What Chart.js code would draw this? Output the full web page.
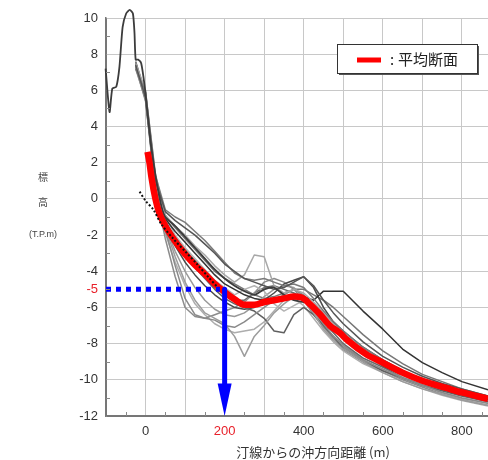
<!DOCTYPE html>
<html><head><meta charset="utf-8">
<script src="https://cdn.jsdelivr.net/npm/chart.js@4/dist/chart.umd.min.js"></script>
<style>html,body{margin:0;padding:0;background:#fff}#wrap{width:488px;height:460px}</style>
</head><body><div id="wrap"><canvas id="c" width="488" height="460"></canvas></div>
<script>
// ---- data ----
const xTickValues = [-100, 0, 100, 200, 300, 400, 500, 600, 700, 800];
const xTickLabels = ['', '0', '', '200', '', '400', '', '600', '', '800'];
const yTickValues = [10, 8, 6, 4, 2, 0, -2, -4, -5, -6, -8, -10, -12];
const yTickLabels = ['10', '8', '6', '4', '2', '0', '-2', '-4', '-5', '-6', '-8', '-10', '-12'];
const legendLabel = '平均断面';
const xTitle = '汀線からの沖方向距離 (m)';
const yTitleLines = ['標', '高', '(T.P.m)'];

// common distance grid (m) for surveyed profiles
const gridX = [-25, 0, 25, 50, 75, 100, 125, 150, 175, 200, 225, 250, 275, 300, 325, 350, 375, 400, 425, 450, 475, 500, 550, 600, 650, 700, 750, 800, 866];
const profA = [7.4, 5.6, 1.0, -0.7, -1.2, -1.6, -2.0, -2.5, -3.0, -3.6, -4.0, -4.4, -4.6, -4.8, -5.0, -4.9, -4.6, -4.3, -4.8, -5.6, -6.3, -6.9, -7.9, -8.7, -9.3, -9.8, -10.2, -10.5, -10.9];
const profB = [7.2, 5.9, 1.3, -0.6, -1.0, -1.3, -1.8, -2.3, -2.9, -3.5, -4.1, -4.4, -4.5, -4.4, -4.6, -4.8, -4.7, -4.9, -5.5, -6.2, -6.8, -7.3, -8.2, -8.9, -9.5, -10.0, -10.35, -10.65, -11.0];
const profC = [7.5, 6.0, 0.8, -0.9, -1.5, -2.0, -2.6, -3.1, -3.7, -4.2, -4.6, -4.2, -3.1, -3.2, -4.8, -5.2, -5.0, -5.2, -5.7, -6.3, -6.9, -7.4, -8.3, -9.0, -9.6, -10.1, -10.45, -10.75, -11.1];
const profD = [7.3, 5.4, 0.6, -1.7, -3.7, -5.5, -6.4, -6.6, -6.7, -7.0, -7.1, -6.8, -6.4, -6.0, -5.6, -5.3, -5.0, -5.3, -6.0, -6.9, -7.6, -8.1, -8.9, -9.4, -9.9, -10.3, -10.7, -11.0, -11.3];
const profE = [7.4, 5.7, 0.9, -1.6, -3.2, -4.6, -5.6, -6.3, -6.6, -6.9, -7.6, -8.7, -7.6, -7.0, -6.3, -5.8, -5.4, -5.6, -6.3, -7.2, -7.8, -8.3, -9.0, -9.6, -10.1, -10.5, -10.8, -11.1, -11.4];
const profF = [7.6, 5.8, 1.1, -1.2, -2.2, -3.0, -3.8, -4.4, -5.0, -5.5, -5.8, -6.0, -6.2, -6.6, -7.3, -7.4, -6.4, -6.0, -6.4, -7.0, -7.6, -8.3, -9.0, -9.5, -9.9, -10.3, -10.6, -10.9, -11.2];
const profG = [7.5, 5.6, 0.9, -1.1, -1.8, -2.4, -3.0, -3.6, -4.2, -4.7, -5.0, -5.3, -5.5, -5.6, -5.5, -5.4, -5.3, -5.4, -5.6, -5.1, -5.1, -5.1, -6.2, -7.2, -8.3, -9.05, -9.6, -10.1, -10.55];
const profH = [7.5, 5.5, 0.7, -1.4, -2.6, -3.5, -4.2, -4.8, -5.3, -5.7, -6.0, -6.1, -6.0, -5.6, -5.2, -4.7, -4.5, -4.3, -4.9, -6.0, -6.8, -7.3, -8.2, -8.9, -9.5, -10.0, -10.4, -10.7, -11.0];
const profI = [7.3, 5.9, 1.4, -1.0, -2.0, -2.7, -3.3, -3.9, -4.5, -4.9, -5.3, -5.0, -4.8, -5.1, -5.8, -6.2, -5.9, -5.6, -5.9, -6.5, -7.1, -7.7, -8.6, -9.2, -9.8, -10.2, -10.6, -10.9, -11.2];
const profJ = [7.2, 5.5, 0.4, -2.2, -4.3, -6.0, -6.5, -6.6, -6.4, -6.2, -6.0, -5.7, -5.2, -4.6, -4.4, -4.6, -5.0, -5.6, -6.4, -7.1, -7.7, -8.2, -8.9, -9.5, -10.0, -10.4, -10.8, -11.1, -11.4];
const profK = [7.4, 5.7, 1.0, -1.3, -2.1, -2.8, -3.4, -4.0, -4.6, -5.2, -5.6, -5.6, -5.2, -4.9, -4.8, -5.0, -5.2, -5.5, -6.1, -6.8, -7.4, -8.0, -8.8, -9.3, -9.8, -10.2, -10.55, -10.85, -11.2];
const profL = [7.3, 5.6, 0.9, -1.5, -2.9, -4.0, -4.9, -5.6, -6.1, -6.4, -6.5, -6.3, -5.9, -5.4, -5.0, -4.8, -4.9, -5.4, -6.2, -7.0, -7.6, -8.1, -8.8, -9.3, -9.9, -10.3, -10.7, -11.0, -11.3];
const profM = [7.5, 5.8, 1.2, -0.9, -1.6, -2.2, -2.8, -3.4, -4.0, -4.4, -4.7, -5.0, -5.3, -5.5, -5.4, -5.2, -5.0, -5.0, -5.3, -5.6, -6.0, -6.5, -7.5, -8.4, -9.1, -9.7, -10.1, -10.5, -10.9];
const profN = [7.3, 5.6, 0.8, -1.9, -3.5, -4.8, -5.8, -6.4, -6.9, -7.2, -7.4, -7.3, -7.2, -6.8, -6.2, -5.6, -5.5, -5.9, -6.6, -7.3, -7.9, -8.4, -9.1, -9.6, -10.1, -10.5, -10.85, -11.15, -11.45];
const greyProfiles = [profA, profB, profC, profD, profE, profF, profG, profH, profI, profJ, profK, profL, profM, profN];
const greyShades = ['#555555', '#7a7a7a', '#a8a8a8', '#8a8a8a', '#9c9c9c', '#606060', '#333333', '#4a4a4a', '#b4b4b4', '#8c8c8c', '#6a6a6a', '#999999', '#777777', '#adadad'];

// profile with the dune on the landward side
const duneX = [-101, -91, -84, -74, -66, -58, -49, -40, -32, -28, -25, -19, -11, -2, 6, 14, 27, 40, 50, 75, 100, 125, 150, 175, 200, 225, 250, 275, 300, 325, 350, 375, 400, 425, 450, 475, 500, 550, 600, 650, 700, 750, 800, 866];
const duneY = [7.2, 4.8, 6.1, 6.2, 7.3, 9.5, 10.25, 10.45, 10.25, 9.2, 7.7, 7.7, 7.5, 6.2, 4.55, 2.9, 1.05, -0.4, -1.0, -1.5, -2.1, -2.7, -3.3, -3.9, -4.4, -4.8, -5.1, -5.3, -5.0, -4.9, -5.3, -5.6, -5.7, -5.9, -6.5, -7.1, -7.6, -8.5, -9.2, -9.7, -10.1, -10.5, -10.8, -11.1];

// mean profile (red)
const meanX = [5, 10, 15, 25, 35, 50, 75, 100, 125, 150, 175, 200, 225, 250, 275, 300, 325, 350, 375, 395, 415, 440, 466, 491, 510, 559, 600, 650, 700, 761, 800, 866];
const meanY = [2.6, 2.0, 1.2, 0.0, -0.8, -1.5, -2.35, -3.05, -3.65, -4.15, -4.7, -5.15, -5.55, -5.85, -5.85, -5.7, -5.6, -5.5, -5.4, -5.45, -5.8, -6.35, -7.0, -7.4, -7.8, -8.6, -9.05, -9.6, -10.05, -10.45, -10.7, -11.05];

// equilibrium (dotted black) line
const eqX = [-15, 0, 20, 40, 70, 100, 130, 160, 185];
const eqY = [0.4, -0.1, -0.6, -1.4, -2.2, -2.9, -3.6, -4.35, -4.95];

// -5 m depth guide and 200 m arrow
const guideDepth = -5;
const guideX = [-100, 188];
const arrowX = 200;
const arrowY = [-5, -10.3];
const arrowTipY = -12;
const arrowBaseY = -10.2;

// ---- build ----
function pts(xs, ys) { return xs.map((x, i) => ({x: x, y: ys[i]})); }

const datasets = [];
datasets.push({label: 'guide', data: pts(guideX, [guideDepth, guideDepth]), borderColor: '#0000ff', borderWidth: 5, borderDash: [5, 5], pointRadius: 0, order: 0});
datasets.push({label: 'arrow', data: pts([arrowX, arrowX], arrowY), borderColor: '#0000ff', borderWidth: 5, pointRadius: 0, order: 0});
datasets.push({label: 'eq', data: pts(eqX, eqY), borderColor: '#111111', borderWidth: 2, borderDash: [2, 2], pointRadius: 0, order: 1, tension: 0.3});
datasets.push({label: legendLabel, data: pts(meanX, meanY), borderColor: '#ff0000', borderWidth: 6.5, pointRadius: 0, order: 2, tension: 0.4, cubicInterpolationMode: 'monotone'});
datasets.push({label: 'dune', data: pts(duneX, duneY), borderColor: '#3c3c3c', borderWidth: 1.8, pointRadius: 0, order: 3, clip: false, tension: 0.2});
greyProfiles.forEach((p, i) => {
  datasets.push({label: 'p' + i, data: pts(gridX, p), borderColor: greyShades[i], borderWidth: 1.5, pointRadius: 0, order: 4 + i});
});

const deco = {
  id: 'deco',
  afterDatasetsDraw(chart) {
    const ctx = chart.ctx, xs = chart.scales.x, ys = chart.scales.y;
    // arrow head
    const ax = xs.getPixelForValue(arrowX), tip = ys.getPixelForValue(arrowTipY), base = ys.getPixelForValue(arrowBaseY);
    ctx.save();
    ctx.fillStyle = '#0000ff';
    ctx.beginPath(); ctx.moveTo(ax - 7, base); ctx.lineTo(ax + 7, base); ctx.lineTo(ax, tip); ctx.closePath(); ctx.fill();
    // minor ticks
    ctx.strokeStyle = '#888'; ctx.lineWidth = 1;
    const a = chart.chartArea;
    for (let v = -11; v <= 9; v += 2) { const y = Math.round(ys.getPixelForValue(v)) + 0.5; ctx.beginPath(); ctx.moveTo(a.left, y); ctx.lineTo(a.left + 4, y); ctx.stroke(); }
    for (let v = -50; v <= 850; v += 100) { const x = Math.round(xs.getPixelForValue(v)) + 0.5; ctx.beginPath(); ctx.moveTo(x, a.bottom); ctx.lineTo(x, a.bottom - 4); ctx.stroke(); }
    // legend box
    const bx = 337, by = 44, bw = 140, bh = 29;
    ctx.fillStyle = '#555'; ctx.fillRect(bx + 2, by + 2, bw, bh);
    ctx.fillStyle = '#fff'; ctx.fillRect(bx, by, bw, bh);
    ctx.strokeStyle = '#333'; ctx.lineWidth = 1; ctx.strokeRect(bx + 0.5, by + 0.5, bw, bh);
    ctx.strokeStyle = '#ff0000'; ctx.lineWidth = 5; ctx.beginPath(); ctx.moveTo(357, 60); ctx.lineTo(381, 60); ctx.stroke();
    ctx.fillStyle = '#222'; ctx.textBaseline = 'middle'; ctx.textAlign = 'left';
    ctx.font = '15px "Noto Sans CJK JP"'; ctx.fillText(':', 390, 59);
    ctx.fillText(legendLabel, 398, 59);
    ctx.restore();
  },
  afterDraw(chart) {
    const ctx = chart.ctx;
    ctx.save();
    ctx.fillStyle = '#333'; ctx.textAlign = 'center'; ctx.textBaseline = 'middle';
    ctx.font = '13px "Noto Sans CJK JP"';
    ctx.fillText(xTitle, 313, 452);
    ctx.fillStyle = '#444';
    ctx.font = '10px "Noto Sans CJK JP"';
    ctx.fillText(yTitleLines[0], 43, 177);
    ctx.fillText(yTitleLines[1], 43, 202);
    ctx.font = '9px "Liberation Sans"';
    ctx.fillText(yTitleLines[2], 43, 235);
    ctx.restore();
  }
};

new Chart(document.getElementById('c'), {
  type: 'line',
  data: {datasets: datasets},
  options: {
    responsive: false, animation: false, devicePixelRatio: 1,
    layout: {padding: {left: 0, right: 0, top: 18, bottom: 0}},
    plugins: {legend: {display: false}, tooltip: {enabled: false}},
    elements: {line: {borderCapStyle: 'butt', borderJoinStyle: 'round'}},
    scales: {
      x: {
        type: 'linear', min: -100, max: 866,
        afterBuildTicks: (s) => { s.ticks = xTickValues.map(v => ({value: v})); },
        afterFit: (s) => { s.height = 44; },
        ticks: {
          padding: 8, maxRotation: 0, autoSkip: false,
          font: {family: 'Liberation Sans', size: 13},
          color: (c) => c.tick && c.tick.value === 200 ? '#e8202a' : '#333',
          callback: (v) => { const i = xTickValues.indexOf(v); return i >= 0 ? xTickLabels[i] : ''; }
        },
        grid: {color: (c) => c.tick && c.tick.value === -100 ? '#777' : '#c8c8c8', lineWidth: 1, drawTicks: false},
        border: {color: '#777', width: 1.5}
      },
      y: {
        type: 'linear', min: -12, max: 10,
        afterBuildTicks: (s) => { s.ticks = yTickValues.map(v => ({value: v})); },
        afterFit: (s) => { s.width = 106; },
        ticks: {
          padding: 8, autoSkip: false,
          font: {family: 'Liberation Sans', size: 13},
          color: (c) => c.tick && c.tick.value === guideDepth ? '#e8202a' : '#333',
          callback: (v) => { const i = yTickValues.indexOf(v); return i >= 0 ? yTickLabels[i] : ''; }
        },
        grid: {color: (c) => !c.tick ? '#c8c8c8' : (c.tick.value === guideDepth ? 'rgba(0,0,0,0)' : (c.tick.value === -12 ? '#777' : '#c8c8c8')), lineWidth: 1, drawTicks: false},
        border: {color: '#777', width: 1.5}
      }
    }
  },
  plugins: [deco]
});
</script></body></html>
